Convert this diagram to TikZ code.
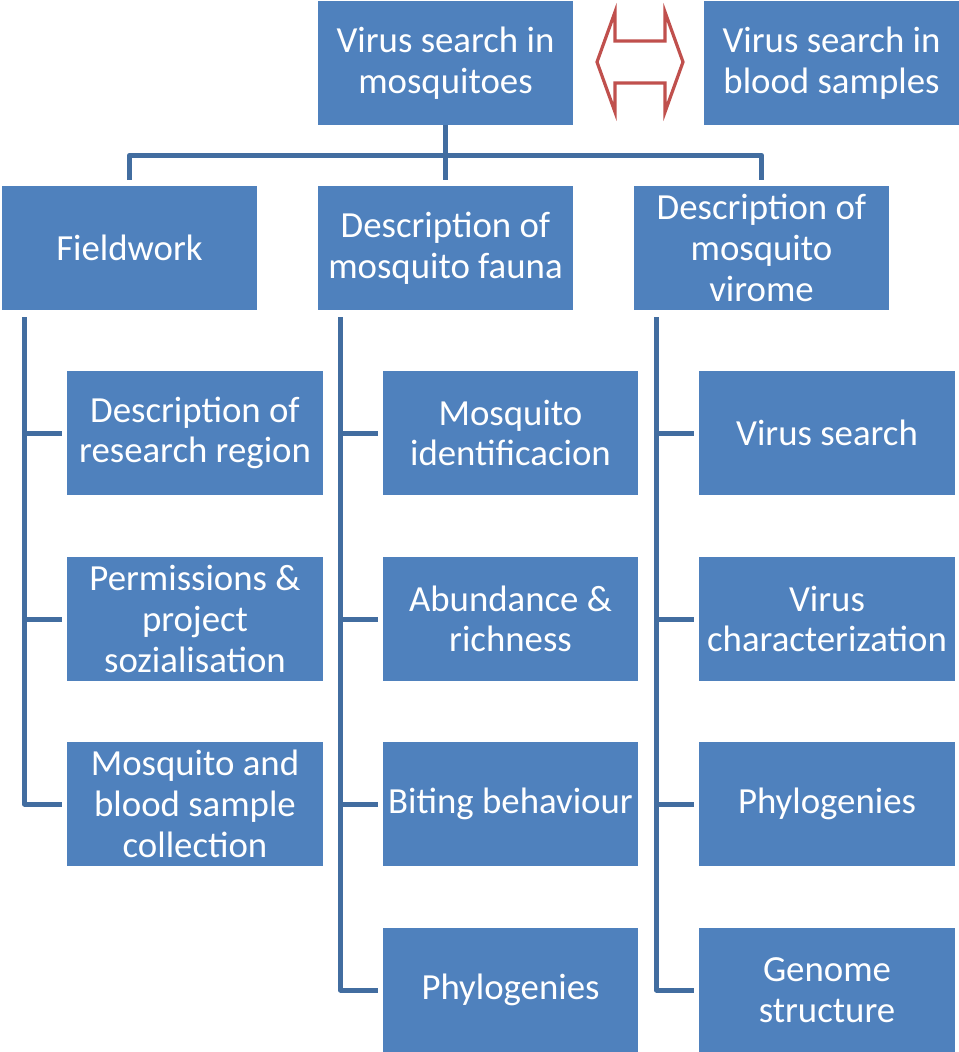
\documentclass[tikz,border=0pt]{standalone}
\usepackage{fontspec}
\setmainfont{Carlito}
\definecolor{boxblue}{RGB}{79,129,189}
\definecolor{lineblue}{RGB}{66,109,160}
\definecolor{arrowred}{RGB}{192,80,77}

\begin{document}
\begin{tikzpicture}[x=0.75pt,y=-0.75pt,
  box/.style={fill=boxblue,text=white,minimum width=191.5pt,minimum height=93pt,
    inner sep=0pt,align=center,font=\fontsize{27.6}{30.5}\selectfont},
  link/.style={draw=lineblue,line width=3.75pt,line join=round}]
  \useasboundingbox (0,0) rectangle (958,1052);

  \node[box] (mq) at (445.5,63) {Virus search in\\mosquitoes};
  \node[box] (bl) at (831.5,63) {Virus search in\\blood samples};
  \draw[arrowred,fill=white,line width=2.4pt] (597,62) -- (615,12) -- (615,41) -- (665,41) -- (665,12)
    -- (683,62) -- (665,112) -- (665,83) -- (615,83) -- (615,112) -- cycle;

  \node[box] (fw) at (129.5,248) {Fieldwork};
  \node[box] (fa) at (445.5,248) {Description of\\mosquito fauna};
  \node[box] (vi) at (761.5,248) {Description of\\mosquito\\virome};

  \node[box] (fw1) at (195,433) {Description of\\research region};
  \node[box] (fw2) at (195,619) {Permissions \&\\project\\sozialisation};
  \node[box] (fw3) at (195,804) {Mosquito and\\blood sample\\collection};

  \node[box] (fa1) at (510.5,433) {Mosquito\\identificacion};
  \node[box] (fa2) at (510.5,619) {Abundance \&\\richness};
  \node[box] (fa3) at (510.5,804) {Biting behaviour};
  \node[box] (fa4) at (510.5,990) {Phylogenies};

  \node[box] (vi1) at (827,433) {Virus search};
  \node[box] (vi2) at (827,619) {Virus\\characterization};
  \node[box] (vi3) at (827,804) {Phylogenies};
  \node[box] (vi4) at (827,990) {Genome\\structure};

  \draw[link] (mq.south) -- ++(0,30) coordinate (bus);
  \draw[link,shorten >=4.5pt] (bus) -- (fa.north);
  \draw[link,shorten <=4.5pt,shorten >=4.5pt] (fw.north) |- (bus) -| (vi.north);

  \coordinate (fwl) at ([xshift=17.25pt,yshift=-5.25pt]fw.south west);
  \coordinate (fal) at ([xshift=17.25pt,yshift=-5.25pt]fa.south west);
  \coordinate (vil) at ([xshift=17.25pt,yshift=-5.25pt]vi.south west);

  \draw[link,shorten >=3.75pt] (fwl) |- (fw3.west);
  \foreach \n in {fw1,fw2}
    \draw[link,shorten >=3.75pt] (fwl |- \n.west) -- (\n.west);
  \draw[link,shorten >=3.75pt] (fal) |- (fa4.west);
  \foreach \n in {fa1,fa2,fa3}
    \draw[link,shorten >=3.75pt] (fal |- \n.west) -- (\n.west);
  \draw[link,shorten >=3.75pt] (vil) |- (vi4.west);
  \foreach \n in {vi1,vi2,vi3}
    \draw[link,shorten >=3.75pt] (vil |- \n.west) -- (\n.west);
\end{tikzpicture}
\end{document}
